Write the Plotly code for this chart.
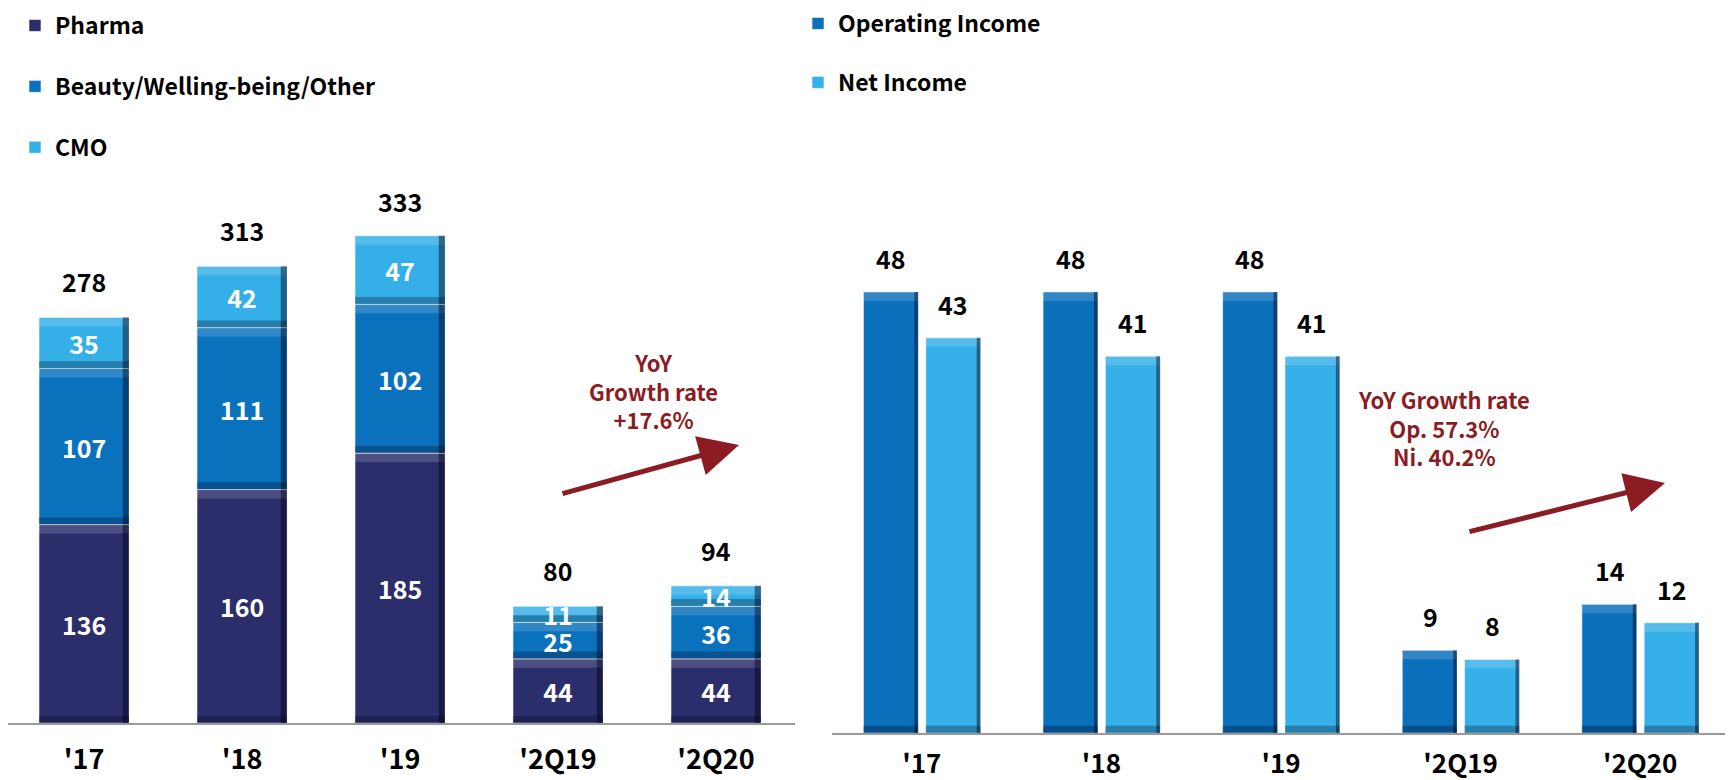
import numpy as np
import plotly.graph_objects as go

# ---------------- data ----------------
categories = ["'17", "'18", "'19", "'2Q19", "'2Q20"]
pharma = [136, 160, 185, 44, 44]
beauty = [107, 111, 102, 25, 36]
cmo = [35, 42, 47, 11, 14]
totals = [278, 313, 333, 80, 94]

op_income = [48, 48, 48, 9, 14]
net_income = [43, 41, 41, 8, 12]

left_note = "YoY<br>Growth rate<br>+17.6%"
right_note = "YoY Growth rate<br>Op. 57.3%<br>Ni. 40.2%"

# ---------------- styles ----------------
C_PHARMA = "#2b2e6b"
C_BEAUTY = "#0a72bd"
C_CMO = "#35afe7"
C_OP = "#0a70bb"
C_NET = "#36b0e8"
C_ARROW = "#8b1c24"
FONT = "Noto Sans CJK KR, Noto Sans, Open Sans, sans-serif"

# page has an 8px body margin at top/left
PAGE_M = 8
W, H = 1733 - PAGE_M, 780 - PAGE_M


def fx(px):  # page x -> paper fraction
    return min(max((px - PAGE_M) / W, 0.0), 1.0)


def fy(py):  # page y -> paper fraction
    return min(max(1 - (py - PAGE_M) / H, 0.0), 1.0)


L_BASE, L_TOP = 723, 150
L_PPU = 1.459
L_X0, L_X1, L_CAT = 8, 795, 158.0
R_BASE, R_TOP = 733, 150
R_PPU = 9.19
R_X0, R_X1, R_CAT = 832, 1730, 179.6

fig = go.Figure()

pharma_a = np.array(pharma)
beauty_a = np.array(beauty)
cmo_a = np.array(cmo)


def bevel(vals, base, off, width, axx, axy, ppu):
    vals = np.asarray(vals, dtype=float)
    base = np.asarray(base, dtype=float)
    k = 9.0 / ppu
    # top highlight
    fig.add_trace(go.Bar(x=categories, y=np.minimum(vals, k), base=base + vals - np.minimum(vals, k),
                         showlegend=False, hoverinfo="skip",
                         marker=dict(color="rgba(255,255,255,0.16)", line=dict(width=0)),
                         width=width, offset=off, xaxis=axx, yaxis=axy))
    # bottom shadow
    fig.add_trace(go.Bar(x=categories, y=np.minimum(vals, k * 0.8), base=base,
                         showlegend=False, hoverinfo="skip",
                         marker=dict(color="rgba(0,0,25,0.28)", line=dict(width=0)),
                         width=width, offset=off, xaxis=axx, yaxis=axy))
    # right edge shadow
    ew = width * 0.07
    fig.add_trace(go.Bar(x=categories, y=vals, base=base, showlegend=False, hoverinfo="skip",
                         marker=dict(color="rgba(0,0,25,0.45)", line=dict(width=0)),
                         width=ew, offset=off + width - ew, xaxis=axx, yaxis=axy))


LW, LO = 0.57, -0.285
stack = [
    ("Pharma", pharma_a, np.zeros(5), C_PHARMA),
    ("Beauty/Welling-being/Other", beauty_a, pharma_a, C_BEAUTY),
    ("CMO", cmo_a, pharma_a + beauty_a, C_CMO),
]
for name, vals, base, col in stack:
    fig.add_trace(go.Bar(
        x=categories, y=vals, base=base, name=name, legendgroup=name,
        marker=dict(color=col, line=dict(color="rgba(255,255,255,0.6)", width=1)),
        width=LW, offset=LO, xaxis="x", yaxis="y", legend="legend",
    ))
    bevel(vals, base, LO, LW, "x", "y", L_PPU)

for name, vals, base, col in stack:
    fig.add_trace(go.Bar(
        x=categories, y=vals, base=base, showlegend=False, hoverinfo="skip",
        marker=dict(color="rgba(0,0,0,0)", line=dict(width=0)),
        width=LW, offset=LO,
        text=[str(v) for v in vals], textposition="inside", insidetextanchor="middle",
        constraintext="none", textangle=0,
        textfont=dict(family=FONT, size=25, color="white", weight="bold"),
        xaxis="x", yaxis="y",
    ))

# right chart
RW = 0.305
for name, vals, off, col in [("Operating Income", op_income, -0.325, C_OP),
                             ("Net Income", net_income, 0.022, C_NET)]:
    fig.add_trace(go.Bar(
        x=categories, y=vals, name=name, legendgroup=name,
        marker=dict(color=col, line=dict(color="rgba(255,255,255,0.6)", width=1)),
        width=RW, offset=off, xaxis="x2", yaxis="y2", legend="legend2",
    ))
    bevel(vals, np.zeros(5), off, RW, "x2", "y2", R_PPU)

annotations = []
for c, t in zip(categories, totals):
    annotations.append(dict(x=c, y=t, xref="x", yref="y", text=str(t), showarrow=False,
                            yanchor="bottom", yshift=16,
                            font=dict(family=FONT, size=25, color="black", weight="bold")))
for vals, dx in [(op_income, -0.17), (net_income, 0.175)]:
    for i, v in enumerate(vals):
        annotations.append(dict(x=i + dx, y=v, xref="x2", yref="y2", text=str(v), showarrow=False,
                                yanchor="bottom", yshift=14,
                                font=dict(family=FONT, size=25, color="black", weight="bold")))

annotations += [
    dict(xref="paper", yref="paper", x=fx(653), y=fy(390), text=left_note, showarrow=False,
         font=dict(family=FONT, size=22, color=C_ARROW, weight="bold"), align="center"),
    dict(xref="paper", yref="paper", x=fx(1532), y=fy(427), text=right_note, showarrow=False,
         font=dict(family=FONT, size=22, color=C_ARROW, weight="bold"), align="center"),
    dict(xref="paper", yref="paper", x=fx(739), y=fy(445), ax=561 - 739, ay=494 - 445,
         axref="pixel", ayref="pixel", showarrow=True, arrowhead=2, arrowsize=1.6,
         arrowwidth=5, arrowcolor=C_ARROW, text=""),
    dict(xref="paper", yref="paper", x=fx(1665), y=fy(483), ax=1468 - 1665, ay=532 - 483,
         axref="pixel", ayref="pixel", showarrow=True, arrowhead=2, arrowsize=1.6,
         arrowwidth=5, arrowcolor=C_ARROW, text=""),
]

axis_common = dict(showgrid=False, zeroline=False, showline=True, linecolor="#9a9a9a",
                   linewidth=2, ticks="", fixedrange=True, automargin=False)

fig.update_layout(
    width=W, height=H, barmode="overlay",
    margin=dict(l=0, r=0, t=0, b=0, autoexpand=False),
    paper_bgcolor="white", plot_bgcolor="white",
    xaxis=dict(domain=[fx(L_X0), fx(L_X1)], anchor="y", ticklabelstandoff=12,
               range=[4.5 - (L_X1 - L_X0) / L_CAT, 4.5],
               tickfont=dict(family=FONT, size=27, color="black", weight="bold"), **axis_common),
    yaxis=dict(domain=[fy(L_BASE), fy(L_TOP)], range=[0, (L_BASE - L_TOP) / L_PPU],
               visible=False, automargin=False),
    xaxis2=dict(domain=[fx(R_X0), fx(R_X1)], anchor="y2", ticklabelstandoff=7,
                range=[-0.5, -0.5 + (R_X1 - R_X0) / R_CAT],
                tickfont=dict(family=FONT, size=26, color="black", weight="bold"), **axis_common),
    yaxis2=dict(domain=[fy(R_BASE), fy(R_TOP)], range=[0, (R_BASE - R_TOP) / R_PPU],
                visible=False, automargin=False),
    legend=dict(x=fx(15), y=1 + 4 / H, xanchor="left", yanchor="top", traceorder="grouped",
                tracegroupgap=28, itemwidth=30, bgcolor="rgba(0,0,0,0)",
                font=dict(family=FONT, size=23, color="black", weight="bold")),
    legend2=dict(x=fx(798), y=1 + 6 / H, xanchor="left", yanchor="top", traceorder="grouped",
                 tracegroupgap=26, itemwidth=30, bgcolor="rgba(0,0,0,0)",
                 font=dict(family=FONT, size=23, color="black", weight="bold")),
    annotations=annotations,
    showlegend=True,
)

fig.write_html("out.html")
